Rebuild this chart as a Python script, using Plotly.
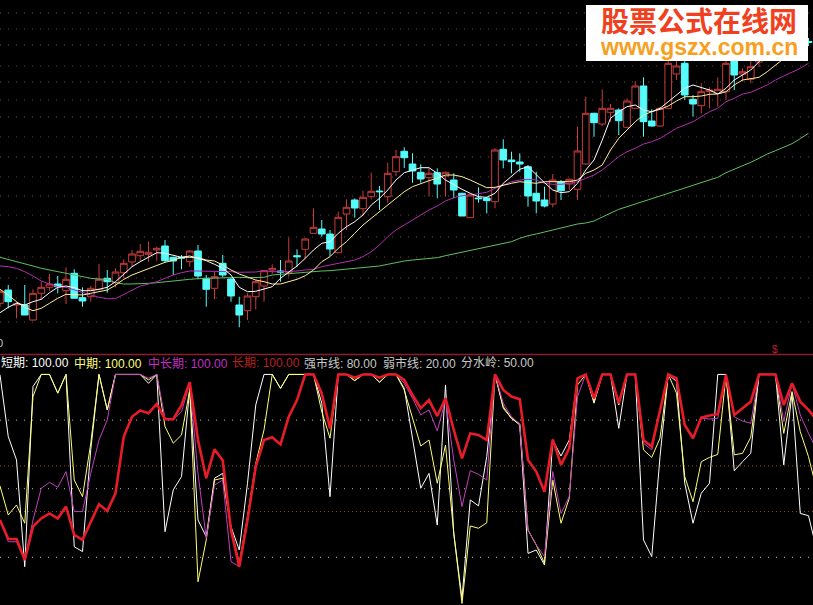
import plotly.graph_objects as go

# Upper panel: prices (chart level units), one entry per trading day
open_ = [50.7,64,49,49,34,60.7,66.7,70,63.3,80.7,56.3,57.3,64.7,75.7,71.3,81.3,92,98.3,99.7,104,108,96.7,96.7,92.3,103,75.7,65.7,90.7,75,49,43.3,57.3,68,
         84,83,81.3,98.3,104.7,120.7,125,120,101.3,140,154,145.3,157.3,163,157.3,182.3,202.7,190,181.7,176.3,181.3,178,174,160.7,136.3,156,156,152.3,204.7,194,192,187.3,160.7,
         154,150,172.3,170,164.7,190,240.7,230,241.7,244,226.7,245.7,268,233,228,245.7,280,290.7,254.7,248.3,262.3,260.7,262.3,294,280,274.7,292,305,316,308,318,320,312.5]
close = [62.3,52.3,50,39,60.7,66.7,70,67.3,74.7,55.7,53,65.7,74.7,72.3,82,90.7,100,102.7,101.7,105.7,93.3,93,96,103,78,64.7,77.3,79,58,39,58,72.3,83.3,
         85.7,82,93,97.3,115,126.7,120,105,136.7,146.7,146,156.7,162.7,162.3,180.7,197.3,196.3,183,175,180.7,170,181.7,164,138,159,155.3,153.3,204,194,192.3,190,158,153,
         148,174,163.3,174.7,203,240.7,231.3,245.7,245.7,233.3,253,268,232.3,228,245.7,290.7,288,259,250,262.3,264,264.7,290.7,279,282.3,287.3,309,316,308,318,323,315,311.5]
high = [64,69,52.3,69,64.7,72.3,80,78,86.7,84.7,66.7,68,90,84,85.7,94.7,104,110,112.7,107.3,114,97.3,99,104,109,79,82.3,99,75.7,57.3,60.7,74,84,
        89.7,94,116.3,104.7,115.7,145.7,134,124,142.3,154.7,155.7,163.3,181.3,168,191.3,204,206.7,200.7,189.7,185.7,185.7,182.3,180.7,161.3,160.7,166.7,157.3,205.7,214.7,202.3,200.7,189,182.3,
        167.3,180,174,175.7,227.3,257.3,241.3,264.7,250,245.7,255.7,273,276.7,244.7,247.3,293.3,294,293,259,270.7,266.7,276.7,310.7,297.3,285.7,294,318,324,326,325,330,327,316]
low = [47.3,45.7,35.7,39,33.3,54,63.3,60.7,50,55.7,47.3,52.3,64.7,61.3,66.7,75.7,87.3,92.3,92.3,93.3,91.3,79,84.7,87.3,74.7,47.3,54.7,76.7,52.3,26.7,34,44.7,52.3,
       80,72.3,77.3,87.3,94.7,120.7,117.3,98,100.7,124,136.3,138,154.7,144,151.3,178,186,171.3,171.3,157.3,155.7,157.3,155.7,138,136,151.3,140.7,145.7,185.7,180.7,182.3,147.3,140.7,
       146.7,146.7,154,164,154,189,217.3,228,232.3,219,225.7,245.7,217.3,227.3,227.3,245.7,274,254,237.3,240.7,245.7,247.3,254,264,272.3,270.7,287,298,303,304,312,310,308]

ma_short = [41.3,46.7,50.7,49,52.3,54.7,61.3,66.7,68,66.3,63.3,63.3,64.7,66.7,72.3,80,87.3,92.3,96.7,101.3,100.7,99,96.7,98,95.7,93.3,89.7,85.7,79,66.7,62.3,62.7,65,
            67.3,75.7,82.3,88,95.7,104,110.7,112.3,120.7,127.3,132.3,139,149,155.7,164,174,181.3,184,186.3,186.3,180.7,174,169,164.7,160.7,157.3,156.7,160.7,170.7,177.3,184.7,187.3,179,
            171.3,164,161.3,162.3,170.7,184,194,214,235.7,242.3,247.3,249,244,242.3,245.7,252.3,259,265.7,269,266.7,264,260,265.7,274,279,284,292.3,301,305,310,313,315,315]
ma_mid = [64.7,59,52.3,46.7,43.3,45.7,50.7,55.7,59.7,59,59,60.7,62.3,64,68.7,74.7,79,82.3,85.7,89,91.7,93.7,96.7,96.7,96.3,94,93,89,84,80,77.3,74,72.3,70,
          70,72.3,74.7,78.3,84,92.3,97.3,105.7,112.3,120.7,129,135.7,142.3,149,155.7,162.3,167.3,170.7,173.3,175.7,179,179,177.3,174,170,166.3,166.7,169,170.7,172.3,171.3,170.7,
          172.3,172.3,172.3,172.3,174,180.7,184,189,204,215.7,224,232.3,239,242.3,244.7,248,253,257.3,257.3,258,259.7,260,262.3,269,274,275.7,276.7,282.3,289,295.7,302,307,312]
ma_long = [88,87.3,85.7,82.3,78,73,70,67.3,66.7,64,61.3,59,56.7,55.3,55.3,59.7,63.3,68,70,72.3,75.7,79,81.3,83,83,83,83,83,82.3,81.7,82,82,83.3,82.3,
           82.3,82.3,83,84,84.7,87.3,89,90,92.3,94,97.3,102.3,109,117.3,124,129,134,139,144,148,153,156.3,158.3,159,160.7,161.7,165.7,169,172.3,174,174.7,174,
           170.7,169.7,169.7,170.7,172.3,175.7,179,184,190.7,197.3,202.3,205.7,210,212.3,215.7,220.7,225.7,229,232.3,237.3,242.3,245.7,252.3,255.7,260,261.7,265.7,269,274,278,281.3,285.7,290.7]
ma_year = [96.7,94.7,92.3,90,88,85.7,84,83,81.3,79.3,77.3,75.7,75,74.7,71.3,70,70,70.7,70.7,71.3,72.3,73,74,74.7,75.3,75.7,76,76.3,76.7,76.7,76.3,76.3,76.7,79,
           79.7,80.7,81.3,82,82.7,83,83.3,84,84.7,85.3,86.7,87.3,88,89.7,91.7,93,94,94.7,95.7,96.3,98.3,100,102.3,104,105.7,107.3,109,110.7,112.3,115.7,118.3,120,
           122,124,126,128,130,131,133,137,141,144.7,147.3,150,152.7,155.3,158,160.7,163.3,166,168.7,171.3,174,176.7,181.3,184.7,188,191.7,195.7,200,203.3,207,210.3,215.3,220.7]

# Lower panel: strength oscillators, 0-100
osc_short = [99.8,72.8,62.6,15.9,94.7,100,100,91.8,100,24.6,22.5,67,100,84.5,100,100,100,100,96.1,100,31.2,49.5,55.3,93.9,36.3,29,54.6,56.7,33.4,23.2,52.4,86.6,100,
             100,93.9,100,100,100,100,87.4,46.5,100,100,97.3,100,100,96.6,100,100,93.9,71.3,50.2,56.7,34.1,95.4,30.5,2,45.1,42.5,64,100,85.2,80.8,77.9,21.7,23.2,
             16.6,71.3,64.3,71.3,98.3,100,87.4,100,100,76.4,100,100,27.6,20.3,64,100,96.9,52.4,34.9,48,52.4,100,100,57.9,61.8,65.5,100,100,100,60.4,91.8,39.2,38.2,23.2]
osc_mid = [51.2,38.5,42.9,34.9,90.3,100,100,91.8,100,53.8,46.5,69.9,100,84.5,100,100,100,100,97.6,100,77.2,69.9,73.5,93.2,9.3,27.6,53.8,54.6,32.7,17.4,37.8,61.1,75.7,
           100,93.9,100,100,100,100,83.7,72.1,100,100,97.3,100,100,96.6,100,100,93.2,80.8,68.7,71.3,52.4,69.1,30.5,-0.2,33.7,32.7,35.1,100,85.9,80.8,78.3,31.9,25.4,
           17.4,53.8,34.9,45.8,95.4,100,88.1,100,100,86.6,100,100,67,63.7,72.1,100,91.8,55.3,44.3,61.8,63.7,65,99.8,64.8,65.5,72.5,100,100,100,74.2,92.5,75,64,49.5]
osc_midlong = [36.3,26.8,26.8,18.8,36.3,50.2,52.8,50.6,57.5,40,40,56.7,71.3,80.1,100,100,100,100,98.3,100,80.8,80.1,83.7,96.1,56.7,28.3,51.6,53.8,18.1,15.9,36.3,60.4,71.3,
               72.5,69.4,81.5,88.8,100,100,91,76.4,100,100,98.6,100,100,98.6,100,100,96.1,89.6,82.3,84.5,75.3,88.8,62.6,42.2,57.9,56.3,53.8,100,87.4,81.5,78.3,31.9,25.4,
               20.3,57.5,39.2,46.5,90.3,100,89.6,100,100,87.4,100,100,69.9,67,84.5,100,98.3,77.9,72.1,80.8,80.5,80.8,99.8,81.5,79.6,78.6,100,100,100,79.4,96.1,82.3,74.2,67]
osc_long = [36.3,28,28,18.8,33.4,37,39.2,37,42.2,29.8,27.6,35.6,43.2,40.3,48,72.8,81.5,84.2,83,87.1,80.4,80.4,86.6,96.6,71.3,54.6,67.3,62.3,31.9,15.9,36.3,59.7,71.3,
            72.5,69.4,81.5,88.8,100,100,91.8,76.4,100,100,98.6,100,100,98.6,100,100,97.6,91,85.2,88.8,81.8,89.6,75.7,63.3,74.2,73.5,71.3,100,93.2,90.3,89.1,62.6,57.5,
            48.7,71.6,60.4,67.7,98.3,100,89.6,100,100,87.4,100,100,71.3,68.4,84.5,100,98.3,77.9,72.1,81.1,82,82.6,99.8,82.3,85.2,88.1,100,100,100,86.6,96.1,88.1,84.5,80.1]

legend_labels = ["短期: 100.00", "中期: 100.00", "中长期: 100.00", "长期: 100.00", "强市线: 80.00", "弱市线: 20.00", "分水岭: 50.00"]
price_grid = [341,325,309,288,272,254,237,217,197,177,158,139,117,97,76,56,32]
osc_grid_main = [80,50,20]
osc_grid_minor = [60,40]

W, H = 813, 605
days = list(range(len(open_)))
osc_days = list(range(len(osc_short)))

fig = go.Figure()
fig.add_trace(go.Candlestick(
    x=days, open=open_, high=high, low=low, close=close,
    increasing=dict(line=dict(color="#c83c3c", width=1), fillcolor="#000000"),
    decreasing=dict(line=dict(color="#54fcfc", width=1), fillcolor="#54fcfc"),
    whiskerwidth=0, hoverinfo="skip", showlegend=False, xaxis="x", yaxis="y"))

for vals, col in [(ma_year, "#5fc05f"), (ma_long, "#b030b0"), (ma_mid, "#ffee99"), (ma_short, "#ffffff")]:
    fig.add_trace(go.Scatter(x=days, y=vals, mode="lines", line=dict(color=col, width=1),
                             hoverinfo="skip", showlegend=False, xaxis="x", yaxis="y"))

for vals, col, w in [(osc_short, "#ffffff", 1), (osc_mid, "#ffff70", 1),
                     (osc_midlong, "#c040c0", 1), (osc_long, "#e81c28", 2.6)]:
    fig.add_trace(go.Scatter(x=osc_days, y=vals, mode="lines", line=dict(color=col, width=w),
                             hoverinfo="skip", showlegend=False, xaxis="x2", yaxis="y2"))

shapes = []
for k, p in enumerate(price_grid):
    shapes.append(dict(type="line", xref="paper", x0=0, x1=1, yref="y", y0=p, y1=p, layer="below",
                       line=dict(color="#7a3c30" if k % 2 else "#645050", width=1, dash="1px,7px")))
for v in osc_grid_main:
    shapes.append(dict(type="line", xref="paper", x0=0, x1=1, yref="y2", y0=v, y1=v, layer="below",
                       line=dict(color="#c8c0a8", width=1, dash="1px,7px")))
for v in osc_grid_minor:
    shapes.append(dict(type="line", xref="paper", x0=0, x1=1, yref="y2", y0=v, y1=v, layer="below",
                       line=dict(color="#8a5020", width=1, dash="1px,3px")))
shapes.append(dict(type="line", xref="paper", x0=0, x1=1, yref="paper", y0=1-354.5/H, y1=1-354.5/H,
                   line=dict(color="#8a1c2c", width=1.5)))
shapes.append(dict(type="rect", xref="paper", yref="paper", x0=586/W, x1=808/W, y0=1-61/H, y1=1-5/H,
                   fillcolor="#ffffff", line=dict(width=0), layer="above"))

def note(text, px, py, size, color, family="Liberation Sans, Noto Sans CJK SC", anchor="left", bold=False):
    t = f"<b>{text}</b>" if bold else text
    return dict(text=t, x=px/W, y=1-py/H, xref="paper", yref="paper", xanchor=anchor, yanchor="middle",
                showarrow=False, font=dict(size=size, color=color, family=family), borderpad=0, borderwidth=0)

legend_x = [1, 74, 148, 232, 304, 383, 461]
legend_col = ["#ffffff", "#ffff80", "#c030c0", "#b82020", "#c8c8c8", "#c8c8c8", "#c8c8c8"]
ann = [note(t, x, 363, 12, c) for t, x, c in zip(legend_labels, legend_x, legend_col)]
ann.append(note("0", 3, 343, 11, "#c8c8c8", anchor="right"))
ann.append(note("$", 775, 349, 10, "#c02030", anchor="center"))
ann.append(note("股票公式在线网", 699, 20.5, 28, "#f0401e", family="Noto Sans CJK SC", anchor="center", bold=True))
ann.append(note("www.gszx.com.cn", 698.5, 47, 23, "#f7a01e", family="Liberation Sans", anchor="center", bold=True))

axis_off = dict(visible=False, showgrid=False, zeroline=False, fixedrange=True)
fig.update_layout(
    width=W, height=H, margin=dict(l=0, r=0, t=0, b=0),
    paper_bgcolor="#000000", plot_bgcolor="#000000", showlegend=False, boxgap=0.15, boxgroupgap=0.05,
    xaxis=dict(axis_off, range=[0, W/8.25], anchor="y", rangeslider=dict(visible=False)),
    xaxis2=dict(axis_off, range=[0, W/8.25], anchor="y2"),
    yaxis=dict(axis_off, domain=[1-354/H, 1], range=[0, 354]),
    yaxis2=dict(axis_off, domain=[0, 1-355/H], range=[-0.875, 108.5]),
    shapes=shapes, annotations=ann)

fig.write_html("out.html", config=dict(displayModeBar=False),
               post_script="document.body.style.margin='0';document.body.style.background='#000';")
